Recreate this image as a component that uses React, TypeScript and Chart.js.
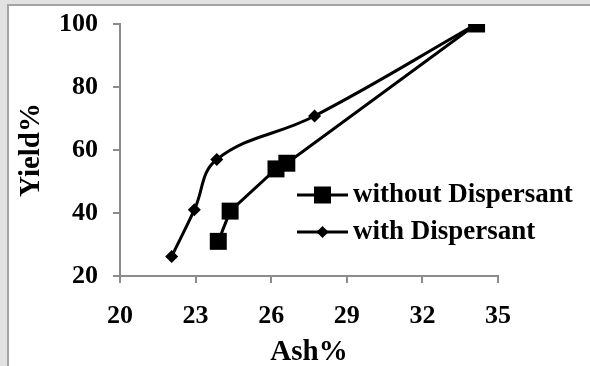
import React, { useEffect, useRef } from "react";
import { Chart, registerables } from "chart.js";

Chart.register(...registerables);

const seriesNames = ["without Dispersant", "with Dispersant"];
const withoutAsh = [23.9, 24.37, 26.19, 26.62, 34.15];
const withoutYield = [31.0, 40.6, 54.0, 55.8, 100];
const withAsh = [22.05, 22.95, 23.84, 27.72, 34.15];
const withYield = [26.2, 41.0, 57.0, 70.8, 100];
const xTicks = [20, 23, 26, 29, 32, 35];
const yTicks = [20, 40, 60, 80, 100];

const FONT = "'Liberation Serif', 'Times New Roman', serif";

const legendPlugin = {
  id: "lineLegend",
  afterDraw(chart: any) {
    const ctx = chart.ctx as CanvasRenderingContext2D;
    const x0 = 297;
    const x1 = 348;
    const ys = [195, 232];
    ctx.save();
    chart.data.datasets.forEach((ds: any, i: number) => {
      const y = ys[i];
      ctx.strokeStyle = "#000";
      ctx.lineWidth = 3;
      ctx.beginPath();
      ctx.moveTo(x0, y);
      ctx.lineTo(x1, y);
      ctx.stroke();
      const cx = (x0 + x1) / 2;
      ctx.fillStyle = "#000";
      if (ds.pointStyle === "rect") {
        ctx.fillRect(cx - 8.5, y - 8.5, 17, 17);
      } else {
        ctx.beginPath();
        ctx.moveTo(cx - 6, y);
        ctx.lineTo(cx, y - 6);
        ctx.lineTo(cx + 6, y);
        ctx.lineTo(cx, y + 6);
        ctx.closePath();
        ctx.fill();
      }
      ctx.font = `bold 27px ${FONT}`;
      ctx.textBaseline = "middle";
      ctx.textAlign = "left";
      ctx.fillText(ds.label, x1 + 5, y);
    });
    ctx.restore();
  },
};

export default function App() {
  const ref = useRef<HTMLCanvasElement>(null);
  useEffect(() => {
    document.body.style.margin = "0";
    const chart = new Chart(ref.current!, {
      type: "scatter",
      data: {
        datasets: [
          {
            label: seriesNames[0],
            data: withoutAsh.map((x, i) => ({ x, y: withoutYield[i] })),
            showLine: true,
            borderColor: "#000",
            backgroundColor: "#000",
            borderWidth: 3,
            pointStyle: "rect",
            pointRadius: 12,
            pointBorderWidth: 0,
            tension: 0,
          },
          {
            label: seriesNames[1],
            data: withAsh.map((x, i) => ({ x, y: withYield[i] })),
            showLine: true,
            borderColor: "#000",
            backgroundColor: "#000",
            borderWidth: 3,
            pointStyle: "rectRot",
            pointRadius: 6.5,
            pointBorderWidth: 0,
            tension: 0.4,
          },
        ],
      },
      options: {
        animation: false,
        responsive: false,
        maintainAspectRatio: false,
        layout: { padding: { top: 24, right: 92, left: 0, bottom: 0 } },
        plugins: { legend: { display: false }, tooltip: { enabled: false } },
        scales: {
          x: {
            type: "linear",
            min: xTicks[0],
            max: xTicks[xTicks.length - 1],
            afterBuildTicks: (s: any) => {
              s.ticks = xTicks.map((v) => ({ value: v }));
            },
            afterFit: (s: any) => {
              s.height = 90;
              s.paddingLeft = 0;
              s.paddingRight = 0;
            },
            ticks: {
              color: "#000",
              padding: 18,
              font: { family: FONT, size: 26, weight: "bold" },
            },
            grid: { drawOnChartArea: false, tickLength: 7, color: "#8c8c8c", lineWidth: 2 },
            border: { color: "#8c8c8c", width: 2 },
            title: {
              display: true,
              text: "Ash%",
              color: "#000",
              padding: { top: 0, bottom: -4 },
              font: { family: FONT, size: 29, weight: "bold" },
            },
          },
          y: {
            type: "linear",
            min: yTicks[0],
            max: yTicks[yTicks.length - 1],
            afterBuildTicks: (s: any) => {
              s.ticks = yTicks.map((v) => ({ value: v }));
            },
            afterFit: (s: any) => {
              s.width = 120;
              s.paddingTop = 0;
              s.paddingBottom = 0;
            },
            ticks: {
              color: "#000",
              padding: 15,
              font: { family: FONT, size: 26, weight: "bold" },
            },
            grid: { drawOnChartArea: false, tickLength: 7, color: "#8c8c8c", lineWidth: 2 },
            border: { color: "#8c8c8c", width: 2 },
            title: {
              display: true,
              text: "Yield%",
              color: "#000",
              padding: { top: 14, bottom: 0 },
              font: { family: FONT, size: 29, weight: "bold" },
            },
          },
        },
      },
      plugins: [legendPlugin],
    });
    return () => chart.destroy();
  }, []);

  return (
    <div
      style={{
        position: "absolute",
        left: 0,
        top: 0,
        width: 590,
        height: 366,
        background: "#e2e2e2",
        overflow: "hidden",
      }}
    >
      <div
        style={{
          position: "absolute",
          left: 7,
          top: 4,
          right: 0,
          bottom: 0,
          background: "#fff",
          borderLeft: "2px solid #a3a3a3",
          borderTop: "2px solid #a3a3a3",
        }}
      />
      <canvas
        ref={ref}
        width={590}
        height={366}
        style={{ position: "absolute", left: 0, top: 0, width: 590, height: 366 }}
      />
    </div>
  );
}
